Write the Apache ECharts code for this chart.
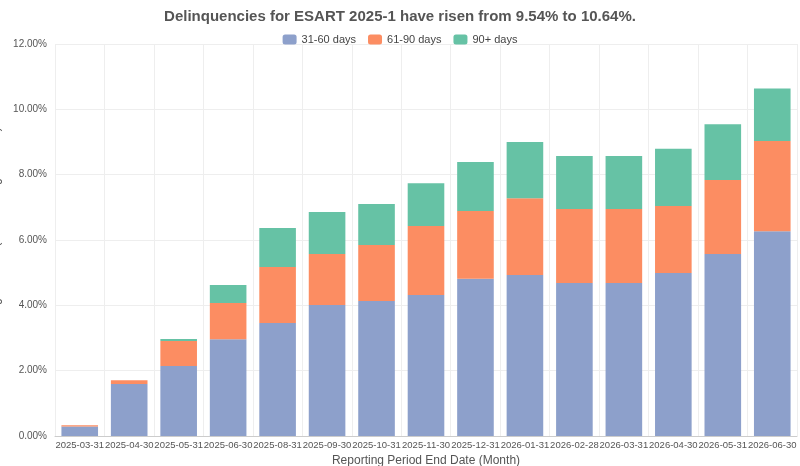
<!DOCTYPE html>
<html>
<head>
<meta charset="utf-8">
<script src="https://cdn.jsdelivr.net/npm/echarts@6/dist/echarts.min.js"></script>
<style>html,body{margin:0;padding:0;background:#fff}#chart{width:800px;height:466px}</style>
</head>
<body>
<div id="chart"></div>
<script>
const dates = ['2025-03-31', '2025-04-30', '2025-05-31', '2025-06-30', '2025-08-31', '2025-09-30', '2025-10-31',
  '2025-11-30', '2025-12-31', '2026-01-31', '2026-02-28', '2026-03-31', '2026-04-30', '2026-05-31', '2026-06-30']
const d31to60 = [0.29, 1.59, 2.14, 2.96, 3.46, 4.01, 4.13, 4.32, 4.81, 4.93, 4.68, 4.68, 4.99, 5.57, 6.27]
const d61to90 = [0.04, 0.12, 0.77, 1.11, 1.71, 1.56, 1.72, 2.11, 2.08, 2.35, 2.27, 2.27, 2.05, 2.27, 2.76]
const d90plus = [0.00, 0.00, 0.06, 0.55, 1.20, 1.29, 1.25, 1.31, 1.50, 1.72, 1.62, 1.62, 1.75, 1.70, 1.61]

const chart = echarts.init(document.getElementById('chart'))
const mk = (name, data, color) => ({ name, type: 'bar', stack: 'd', data, barWidth: '74%', itemStyle: { color } })

chart.setOption({
  animation: false,
  textStyle: { fontFamily: 'Liberation Sans, Arial, sans-serif' },
  title: {
    text: 'Delinquencies for ESART 2025-1 have risen from 9.54% to 10.64%.',
    left: 'center', top: 4,
    textStyle: { fontSize: 15, fontWeight: 'bold', color: '#555' }
  },
  legend: {
    top: 29, itemWidth: 14, itemHeight: 10, itemGap: 12,
    textStyle: { fontSize: 11, color: '#444' }
  },
  grid: { left: 55, right: 3, top: 44, bottom: 30, containLabel: false, outerBoundsMode: 'none' },
  xAxis: {
    type: 'category', data: dates,
    name: 'Reporting Period End Date (Month)', nameLocation: 'middle', nameGap: 18,
    nameTextStyle: { fontSize: 12, color: '#555' },
    axisLabel: { fontSize: 9.5, color: '#555', interval: 0, margin: 4, hideOverlap: false },
    axisTick: { show: false },
    axisLine: { lineStyle: { color: '#ccc' } },
    splitLine: { show: true, lineStyle: { color: '#eee' } }
  },
  yAxis: {
    type: 'value', min: 0, max: 12, interval: 2,
    name: 'Percentage of Deal (Outstanding Balance)', nameLocation: 'middle', nameGap: 44,
    nameTextStyle: { fontSize: 12, color: '#555' },
    axisLabel: { fontSize: 10, color: '#555', formatter: v => v.toFixed(2) + '%' },
    splitLine: { lineStyle: { color: '#eee' } }
  },
  series: [
    mk('31-60 days', d31to60, '#8da0cb'),
    mk('61-90 days', d61to90, '#fc8d62'),
    mk('90+ days', d90plus, '#66c2a5')
  ]
})
</script>
</body>
</html>
